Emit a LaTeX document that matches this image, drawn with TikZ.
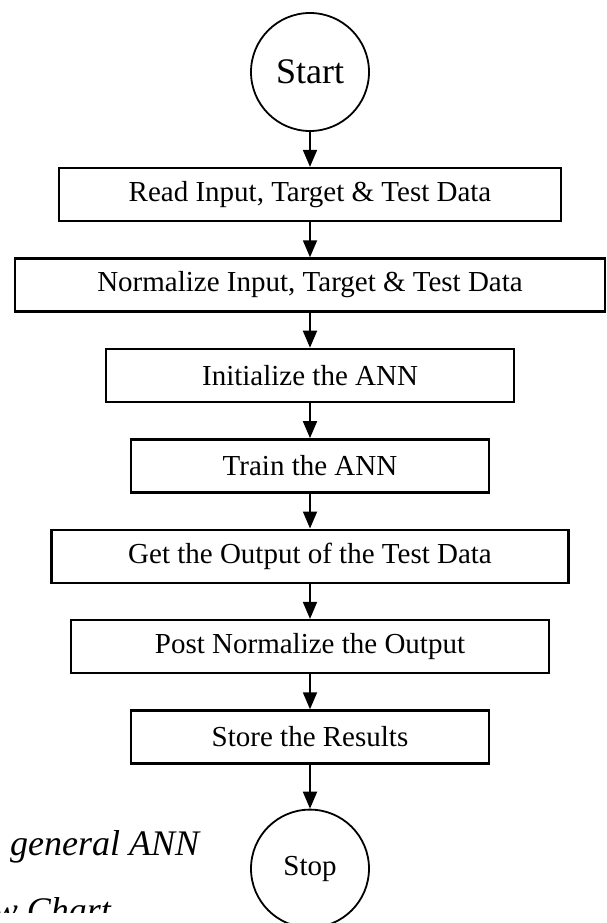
\documentclass[tikz,border=0pt]{standalone}
\usepackage{fontspec}
\setmainfont{Liberation Serif}
\usepackage{tikz}
\usetikzlibrary{positioning}
\usetikzlibrary{arrows.meta}

\begin{document}
\begin{tikzpicture}[
      x=1pt, y=-1pt,
      node distance=35pt,
      box/.style={rectangle, draw, line width=2.4pt, minimum height=53pt, inner sep=0pt, font=\fontsize{29}{34}\selectfont},
      term/.style={circle, draw, line width=1.8pt, minimum size=118pt, inner sep=0pt},
      flow/.style={-{Triangle[length=17pt, width=14pt]}, line width=1.8pt}
    ]
    \useasboundingbox (0,0) rectangle (606,923);

    % Fluxograma
    \node[term, font=\fontsize{36}{40}\selectfont] (start) at (310,72) {Start};
    \node[box, minimum width=502pt, below=of start] (read) {Read Input, Target \& Test Data};
    \node[box, minimum width=590pt, below=of read] (norm) {Normalize Input, Target \& Test Data};
    \node[box, minimum width=408pt, below=of norm] (init) {Initialize the ANN};
    \node[box, minimum width=358pt, below=of init] (train) {Train the ANN};
    \node[box, minimum width=517pt, below=of train] (output) {Get the Output of the Test Data};
    \node[box, minimum width=478pt, below=of output] (post) {Post Normalize the Output};
    \node[box, minimum width=358pt, below=of post] (store) {Store the Results};
    \node[term, font=\fontsize{29}{34}\selectfont, below=44pt of store] (stop) {Stop};

    \draw[flow] (start) -- (read);
    \draw[flow] (read) -- (norm);
    \draw[flow] (norm) -- (init);
    \draw[flow] (init) -- (train);
    \draw[flow] (train) -- (output);
    \draw[flow] (output) -- (post);
    \draw[flow] (post) -- (store);
    \draw[flow] (store) -- (stop);

    % Legenda cortada
    \begin{scope}
      \clip (0,0) rectangle (606,912);
      \node[anchor=base west, inner sep=0pt, font=\fontsize{36}{40}\selectfont\itshape] (capa) at (10,855) {general ANN};
      \node[anchor=base east, inner sep=0pt, font=\fontsize{36}{40}\selectfont\itshape] (capb) at (111,922) {Flow Chart};
    \end{scope}

  \end{tikzpicture}
\end{document}
